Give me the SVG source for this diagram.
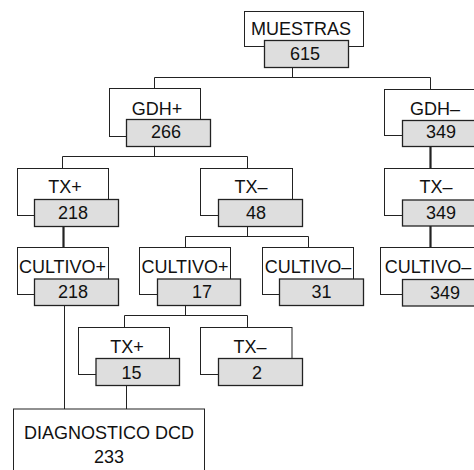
<svg xmlns="http://www.w3.org/2000/svg" width="474" height="470" viewBox="0 0 474 470">
<style>
.o{fill:#fff;stroke:#222;stroke-width:1}
.g{fill:#dedede;stroke:#222;stroke-width:1.3}
text{font-family:"Liberation Sans",Arial,sans-serif;font-size:18px;fill:#111;text-anchor:middle}
.c line{stroke:#222;stroke-width:1}
.c line.t{stroke-width:2.2}
</style>
<rect width="474" height="470" fill="#fff"/>
<g class="c" id="connectors">
<line x1="292.5" y1="67" x2="292.5" y2="77.5"/>
<line x1="154.5" y1="77.5" x2="430.5" y2="77.5"/>
<line x1="154.5" y1="77.5" x2="154.5" y2="88.5"/>
<line x1="430.5" y1="77.5" x2="430.5" y2="89.5"/>
<line class="t" x1="430.5" y1="146" x2="430.5" y2="168.5"/>
<line class="t" x1="430.5" y1="226" x2="430.5" y2="247"/>
<line x1="154.5" y1="147" x2="154.5" y2="156.5"/>
<line x1="62.5" y1="156.5" x2="247.5" y2="156.5"/>
<line x1="62.5" y1="156.5" x2="62.5" y2="168.5"/>
<line x1="247.5" y1="156.5" x2="247.5" y2="168.5"/>
<line class="t" x1="63.5" y1="226" x2="63.5" y2="247.5"/>
<line x1="247.5" y1="226" x2="247.5" y2="236.5"/>
<line x1="185.5" y1="236.5" x2="308.5" y2="236.5"/>
<line x1="185.5" y1="236.5" x2="185.5" y2="247.5"/>
<line x1="308.5" y1="236.5" x2="308.5" y2="247.5"/>
<line x1="185.5" y1="305" x2="185.5" y2="315.5"/>
<line x1="124.5" y1="315.5" x2="247.5" y2="315.5"/>
<line x1="124.5" y1="315.5" x2="124.5" y2="327.5"/>
<line x1="247.5" y1="315.5" x2="247.5" y2="327.5"/>
<line x1="64.5" y1="305" x2="64.5" y2="409"/>
<line x1="126.5" y1="385" x2="126.5" y2="409"/>
</g>
<g id="n-muestras">
<rect class="o" x="244.5" y="11.5" width="119" height="35"/>
<text x="301" y="35">MUESTRAS</text>
<rect class="g" x="264.5" y="40.5" width="84" height="27"/>
<text x="305" y="60">615</text>
</g>
<g id="n-gdhpos">
<rect class="o" x="109.5" y="88.5" width="91" height="48"/>
<text x="157" y="115">GDH+</text>
<rect class="g" x="126.5" y="119.5" width="84" height="27"/>
<text x="166" y="138">266</text>
</g>
<g id="n-gdhneg">
<rect class="o" x="384.5" y="89.5" width="91" height="46"/>
<text x="435" y="115">GDH–</text>
<rect class="g" x="402.5" y="120.5" width="84" height="26"/>
<text x="441" y="138">349</text>
</g>
<g id="n-txpos1">
<rect class="o" x="17.5" y="168.5" width="91" height="47"/>
<text x="65" y="193">TX+</text>
<rect class="g" x="34.5" y="199.5" width="84" height="27"/>
<text x="73" y="219">218</text>
</g>
<g id="n-txneg1">
<rect class="o" x="200.5" y="168.5" width="92" height="47"/>
<text x="251" y="193">TX–</text>
<rect class="g" x="218.5" y="199.5" width="84" height="27"/>
<text x="256" y="219">48</text>
</g>
<g id="n-txneg2">
<rect class="o" x="384.5" y="168.5" width="91" height="47"/>
<text x="436" y="193">TX–</text>
<rect class="g" x="402.5" y="200" width="84" height="26"/>
<text x="441" y="219">349</text>
</g>
<g id="n-cultpos1">
<rect class="o" x="17.5" y="247.5" width="91" height="47"/>
<text x="62.5" y="273">CULTIVO+</text>
<rect class="g" x="34.5" y="279" width="84" height="26.5"/>
<text x="73" y="298">218</text>
</g>
<g id="n-cultpos2">
<rect class="o" x="139.5" y="247.5" width="91" height="47"/>
<text x="185" y="273">CULTIVO+</text>
<rect class="g" x="157.5" y="279" width="83" height="26.5"/>
<text x="202" y="298">17</text>
</g>
<g id="n-cultneg1">
<rect class="o" x="262.5" y="247.5" width="91" height="47"/>
<text x="308" y="273">CULTIVO–</text>
<rect class="g" x="279.5" y="279" width="84" height="26.5"/>
<text x="321.5" y="298">31</text>
</g>
<g id="n-cultneg2">
<rect class="o" x="380.5" y="247.5" width="96" height="47"/>
<text x="428" y="273">CULTIVO–</text>
<rect class="g" x="402.5" y="279.5" width="84" height="26.5"/>
<text x="445" y="299">349</text>
</g>
<g id="n-txpos2">
<rect class="o" x="78.5" y="327.5" width="91" height="47"/>
<text x="127" y="353">TX+</text>
<rect class="g" x="96" y="358.5" width="83.5" height="27"/>
<text x="131.5" y="379">15</text>
</g>
<g id="n-txneg3">
<rect class="o" x="200.5" y="327.5" width="91.5" height="47"/>
<text x="250" y="353">TX–</text>
<rect class="g" x="218.5" y="358.5" width="84" height="27"/>
<text x="257" y="379">2</text>
</g>
<g id="n-diag">
<rect class="o" x="13.5" y="409" width="191" height="70"/>
<text x="109" y="439">DIAGNOSTICO DCD</text>
<text x="109" y="463">233</text>
</g>
</svg>
